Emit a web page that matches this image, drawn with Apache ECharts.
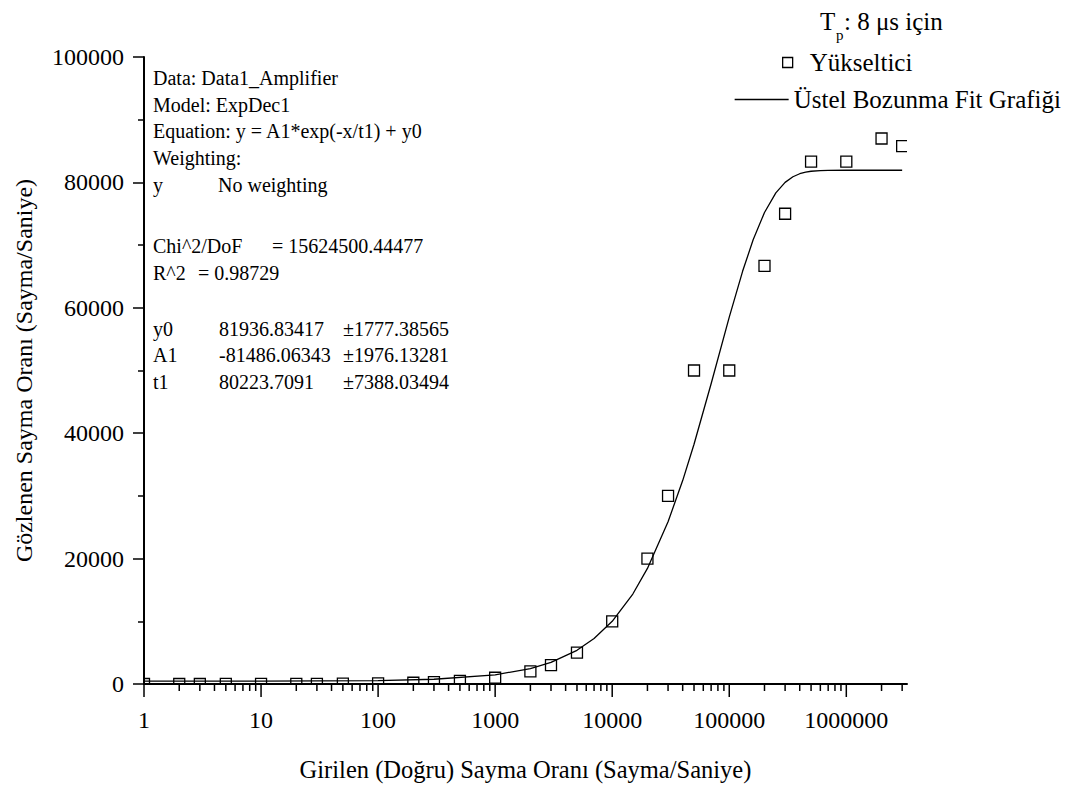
<!DOCTYPE html>
<html>
<head>
<meta charset="utf-8">
<script src="https://cdn.jsdelivr.net/npm/echarts@6/dist/echarts.min.js"></script>
<style>
  html, body { margin: 0; padding: 0; background: #fff; }
  #chart { width: 1067px; height: 787px; }
</style>
</head>
<body>
<div id="chart"></div>
<script>
// Measured rates: input (true) count rate vs. observed count rate
const inputRate = [1, 2, 3, 5, 10, 20, 30, 50, 100, 200, 300, 500, 1000, 2000, 3000, 5000,
  10000, 20000, 30000, 50000, 100000, 200000, 300000, 500000, 1000000, 2000000, 3000000];
const observedRate = [1, 2, 3, 5, 10, 20, 30, 50, 100, 200, 300, 500, 1000, 2000, 3000, 5000,
  10000, 20000, 30000, 50000, 50000, 66700, 75000, 83300, 83300, 87000, 85800];

// Exponential-decay fit curve, y = A1*exp(-x/t1) + y0, sampled values
const fitX = [1, 10, 100, 300, 1000, 2000, 3000, 5000, 7000, 10000, 15000, 20000, 30000, 40000,
  50000, 70000, 100000, 130000, 160000, 200000, 250000, 300000, 350000, 400000, 450000,
  500000, 600000, 700000, 1000000, 3000000];
const fitY = [452, 461, 552, 755, 1460, 2457, 3442, 5374, 7260, 10001, 14347, 18431, 25874, 32444,
  38244, 47885, 58509, 65818, 70847, 75201, 78325, 80000, 80898, 81380, 81638,
  81777, 81891, 81924, 81937, 81937];

// Axis ticks and labels
const xMajorTicks = [1, 10, 100, 1000, 10000, 100000, 1000000];
const xMinorMultipliers = [2, 3, 4, 5, 6, 7, 8, 9];
const xMax = 3300000;
const yTicks = [0, 20000, 40000, 60000, 80000, 100000];

const seriesNames = ['Yükseltici', 'Üstel Bozunma Fit Grafiği'];
const xTitle = 'Girilen (Doğru) Sayma Oranı (Sayma/Saniye)';
const yTitle = 'Gözlenen Sayma Oranı (Sayma/Saniye)';

// Fit report lines: [text, column]
const fitReport = [
  ['Data: Data1_Amplifier'],
  ['Model: ExpDec1'],
  ['Equation: y = A1*exp(-x/t1) + y0'],
  ['Weighting:'],
  ['y', 'No weighting'],
  ['Chi^2/DoF', '= 15624500.44477'],
  ['R^2', '= 0.98729'],
  ['y0', '81936.83417', '±1777.38565'],
  ['A1', '-81486.06343', '±1976.13281'],
  ['t1', '80223.7091', '±7388.03494']
];

const FONT = '"Liberation Serif", "Times New Roman", serif';

// tick list for the log axis: [value, isMajor]
const xTickData = [];
xMajorTicks.forEach(function (m) {
  xTickData.push([m, 1]);
  xMinorMultipliers.forEach(function (k) {
    if (m * k <= xMax) xTickData.push([m * k, 0]);
  });
});

const chart = echarts.init(document.getElementById('chart'), null, { renderer: 'svg' });

// report text placement
const reportRows = [80, 106.5, 133, 159.5, 186.5, 248, 275, 331, 357, 383.5];
const reportCols = {
  4: [153, 218],
  5: [153, 272],
  6: [153, 198],
  7: [153, 219, 343],
  8: [153, 219, 343],
  9: [153, 219, 343]
};
const reportGraphics = [];
fitReport.forEach(function (row, i) {
  const cols = reportCols[i] || [153];
  row.forEach(function (txt, j) {
    reportGraphics.push({
      type: 'text',
      left: cols[j],
      top: reportRows[i] - 12,
      silent: true,
      style: { text: txt, fill: '#000', font: '20px ' + FONT }
    });
  });
});

const titleGraphics = [
  { type: 'text', left: 820, top: 9, style: { text: 'T', fill: '#000', font: '25px ' + FONT } },
  { type: 'text', left: 836, top: 27, style: { text: 'p', fill: '#000', font: '15px ' + FONT } },
  { type: 'text', left: 844, top: 9, style: { text: ': 8 μs için', fill: '#000', font: '25px ' + FONT } }
];

const option = {
  animation: false,
  backgroundColor: '#fff',
  textStyle: { fontFamily: FONT, color: '#000' },
  grid: { left: 144, right: 160, top: 57, bottom: 101, containLabel: false },
  legend: [
    {
      data: [{ name: seriesNames[0], icon: 'rect',
        itemStyle: { color: 'rgba(0,0,0,0)', borderColor: '#000', borderWidth: 1.3 } }],
      left: 782, top: 50, padding: 0,
      itemWidth: 10, itemHeight: 10,
      selectedMode: false,
      textStyle: { fontFamily: FONT, fontSize: 25, color: '#000', padding: [0, 0, 0, 12] }
    },
    {
      data: [{ name: seriesNames[1], itemStyle: { opacity: 0 } }],
      left: 734, top: 87, padding: 0,
      itemWidth: 54, itemHeight: 14,
      selectedMode: false,
      lineStyle: { color: '#000', width: 1.3 },
      textStyle: { fontFamily: FONT, fontSize: 25, color: '#000' }
    }
  ],
  graphic: titleGraphics.concat(reportGraphics),
  xAxis: {
    type: 'log',
    logBase: 10,
    min: 1,
    max: xMax,
    name: xTitle,
    nameLocation: 'middle',
    nameGap: 73,
    nameTextStyle: { fontFamily: FONT, fontSize: 24.5, color: '#000' },
    axisLine: { show: true, onZero: false, lineStyle: { color: '#000', width: 2 } },
    axisTick: { show: false },
    splitLine: { show: false },
    axisLabel: {
      margin: 24,
      fontFamily: FONT, fontSize: 24, color: '#000',
      formatter: function (v) {
        const hit = xMajorTicks.find(function (t) { return Math.abs(t - v) / t < 1e-6; });
        return hit ? String(hit) : '';
      }
    }
  },
  yAxis: {
    type: 'value',
    min: yTicks[0],
    max: yTicks[yTicks.length - 1],
    interval: yTicks[1] - yTicks[0],
    name: yTitle,
    nameLocation: 'middle',
    nameGap: 108,
    nameTextStyle: { fontFamily: FONT, fontSize: 24, color: '#000' },
    axisLine: { show: true, lineStyle: { color: '#000', width: 2 } },
    axisTick: { show: true, inside: false, length: 11, lineStyle: { color: '#000', width: 1.5 } },
    minorTick: { show: true, splitNumber: 2, length: 6, lineStyle: { color: '#000', width: 1.5 } },
    splitLine: { show: false },
    axisLabel: {
      margin: 20,
      fontFamily: FONT, fontSize: 24, color: '#000',
      formatter: function (v) { return String(v); }
    }
  },
  series: [
    {
      // tick marks of the log axis (major and minor decades)
      type: 'custom',
      name: 'xTicks',
      data: xTickData,
      clip: false,
      silent: true,
      encode: { x: 0, y: 1 },
      renderItem: function (params, api) {
        const p = api.coord([api.value(0), 0]);
        const len = api.value(1) ? 13 : 7;
        return {
          type: 'line',
          shape: { x1: p[0], y1: p[1], x2: p[0], y2: p[1] + len },
          style: { stroke: '#000', lineWidth: 1.5 }
        };
      }
    },
    {
      name: seriesNames[1],
      type: 'line',
      data: fitX.map(function (x, i) { return [x, fitY[i]]; }),
      symbol: 'none',
      showSymbol: false,
      smooth: false,
      lineStyle: { color: '#000', width: 1.3 },
      itemStyle: { color: '#000' },
      z: 2
    },
    {
      // hollow square markers, clipped at the plot frame
      name: seriesNames[0],
      type: 'custom',
      clip: true,
      data: inputRate.map(function (x, i) { return [x, observedRate[i]]; }),
      encode: { x: 0, y: 1 },
      itemStyle: { color: 'rgba(0,0,0,0)', borderColor: '#000', borderWidth: 1.3 },
      renderItem: function (params, api) {
        const p = api.coord([api.value(0), api.value(1)]);
        const s = 11;
        return {
          type: 'rect',
          shape: { x: p[0] - s / 2, y: p[1] - s / 2, width: s, height: s },
          style: { fill: 'none', stroke: '#000', lineWidth: 1.3 }
        };
      },
      z: 3
    }
  ]
};

chart.setOption(option);
</script>
</body>
</html>
